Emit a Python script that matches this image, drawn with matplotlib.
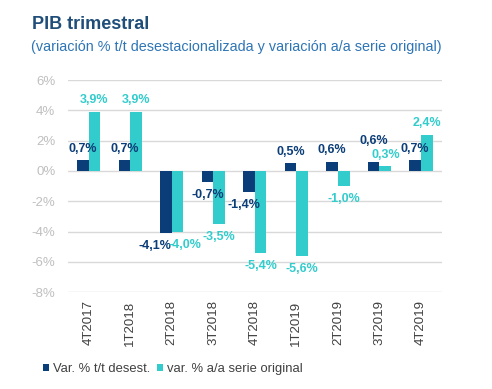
import matplotlib
matplotlib.use("Agg")
import matplotlib.pyplot as plt
import numpy as np

plt.rcParams['font.family'] = ['Liberation Sans', 'DejaVu Sans']

categories = ["4T2017", "1T2018", "2T2018", "3T2018", "4T2018", "1T2019", "2T2019", "3T2019", "4T2019"]
tt_desest = [0.7, 0.7, -4.1, -0.7, -1.4, 0.5, 0.6, 0.6, 0.7]
aa_original = [3.9, 3.9, -4.0, -3.5, -5.4, -5.6, -1.0, 0.3, 2.4]
yticks = [6, 4, 2, 0, -2, -4, -6, -8]

dark = "#0B3D78"
cyan = "#33CCCC"

fig = plt.figure(figsize=(4.92, 3.89), dpi=100)
ax = fig.add_axes([0.138, 0.249, 0.760, 0.545])

x = np.arange(len(categories))
w = 0.28
b1 = ax.bar(x - w/2, tt_desest, w, color=dark, label="Var. % t/t desest.", zorder=3)
b2 = ax.bar(x + w/2, aa_original, w, color=cyan, label="var. % a/a serie original", zorder=3)

def fmt(v):
    return ("%.1f%%" % v).replace(".", ",")

# per-label nudges (points) to avoid overlaps
dx1 = [0, 0, -8, 0, -4, 0, 0, 0, 0]
dy1 = [0, 0, 0, 0, 0, 0, 0, 7, 0]
dx2 = [0, 0, 5, 0, 0, 0, 0, 0, 0]
dy2 = [0, 0, 0, 0, 0, 0, 0, 0, 0]
for i, (v1, v2) in enumerate(zip(tt_desest, aa_original)):
    for v, xc, col, dx, dy in ((v1, x[i] - w/2, dark, dx1[i], dy1[i]),
                               (v2, x[i] + w/2, cyan, dx2[i], dy2[i])):
        off = 4 if v >= 0 else -5
        ax.annotate(fmt(v), (xc, v), xytext=(dx, off + dy), textcoords="offset points",
                    ha="center", va="bottom" if v >= 0 else "top",
                    color=col, fontsize=9, fontweight="bold", zorder=4)

ax.set_ylim(-8, 6)
ax.set_xlim(-0.5, len(categories) - 0.5)
ax.set_yticks(yticks)
ax.set_yticklabels(["%d%%" % t for t in yticks], color="#BFBFBF", fontsize=9.5)
ax.set_xticks(x)
ax.set_xticklabels(categories, rotation=90, color="#404040", fontsize=9.5)
ax.tick_params(axis="y", length=0, pad=9)
ax.tick_params(axis="x", length=0, pad=6)
ax.grid(axis="y", color="#D9D9D9", linewidth=1, zorder=0)
for s in ax.spines.values():
    s.set_visible(False)

fig.text(0.065, 0.925, "PIB trimestral", fontsize=13, fontweight="bold", color="#1F4E79")
fig.text(0.063, 0.868, "(variación % t/t desestacionalizada y variación a/a serie original)",
         fontsize=10.4, color="#2E75B6")

leg = fig.legend(handles=[b1, b2], loc="lower left", bbox_to_anchor=(0.068, 0.012), ncol=2,
                 frameon=False, fontsize=9.4, handlelength=0.5, handleheight=0.5,
                 handletextpad=0.3, columnspacing=0.5, borderpad=0.2)
for t in leg.get_texts():
    t.set_color("#404040")

fig.savefig("out.png", dpi=100)
